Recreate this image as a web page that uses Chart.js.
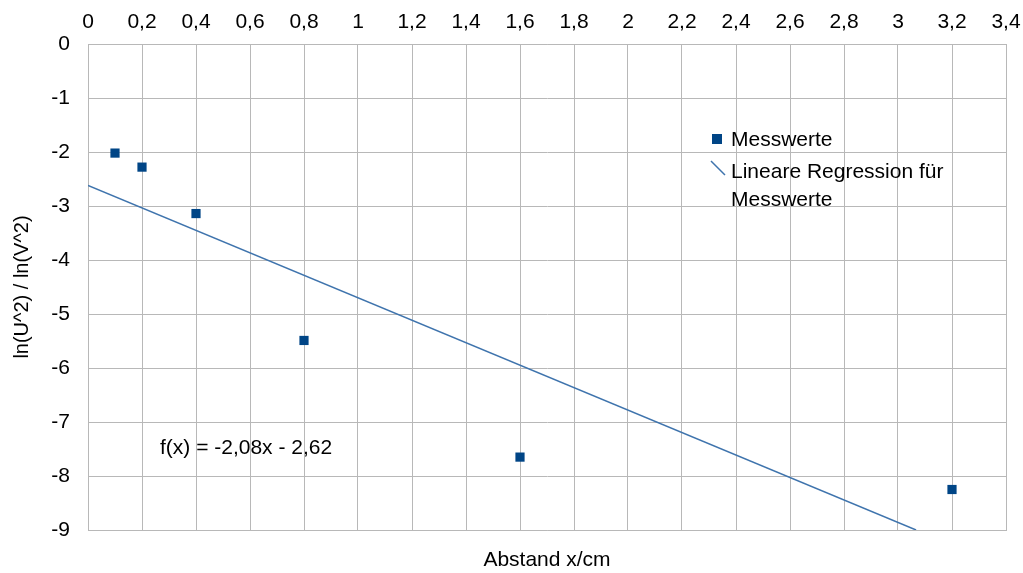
<!DOCTYPE html>
<html lang="de">
<head>
    <meta charset="UTF-8">
    <title>Messwerte</title>
    <script src="https://cdn.jsdelivr.net/npm/chart.js"></script>
    <style>
        html, body { margin: 0; padding: 0; background: #fff; }
        #wrap { width: 1023px; height: 573px; }
    </style>
</head>
<body>
    <div id="wrap"><canvas id="chart"></canvas></div>

    <script>
        // Messwerte (Abstand x in cm, ln-Verhältnis)
        const abstand = [0.1, 0.2, 0.4, 0.8, 1.6, 3.2];
        const lnWerte = [-2.02, -2.28, -3.14, -5.49, -7.65, -8.25];

        // Regressionsgerade f(x) = -2,08x - 2,62, bis zum unteren Rand gezeichnet
        const regX = [0, 3.067];
        const regY = [-2.62, -9];

        const FONT = '"Liberation Sans", Arial, sans-serif';
        const SIZE = 21;
        const GRID = '#b8b8b8';
        const DARK = '#004586';
        const LINE = '#3f74ad';

        function komma(v) {
            return (Math.round(v * 10) / 10).toString().replace('.', ',');
        }

        // Legende und Gleichung direkt in die Zeichenfläche
        const overlay = {
            id: 'overlay',
            afterDraw(chart) {
                const ctx = chart.ctx;
                ctx.save();
                ctx.font = SIZE + 'px ' + FONT;
                ctx.textBaseline = 'middle';
                ctx.textAlign = 'left';

                ctx.fillStyle = DARK;
                ctx.fillRect(712, 134, 10, 10);
                ctx.strokeStyle = LINE;
                ctx.lineWidth = 1.5;
                ctx.beginPath();
                ctx.moveTo(711, 161);
                ctx.lineTo(725, 175);
                ctx.stroke();

                ctx.fillStyle = '#000';
                ctx.fillText('Messwerte', 731, 140);
                ctx.fillText('Lineare Regression für', 731, 172);
                ctx.fillText('Messwerte', 731, 200);

                ctx.fillText('f(x) = -2,08x - 2,62', 160, 448);
                ctx.restore();
            }
        };

        new Chart(document.getElementById('chart'), {
            type: 'scatter',
            data: {
                datasets: [
                    {
                        label: 'Lineare Regression für Messwerte',
                        data: regX.map((x, i) => ({ x: x, y: regY[i] })),
                        showLine: true,
                        borderColor: LINE,
                        borderWidth: 1.5,
                        pointRadius: 0,
                        fill: false
                    },
                    {
                        label: 'Messwerte',
                        data: abstand.map((x, i) => ({ x: x, y: lnWerte[i] })),
                        pointStyle: 'rect',
                        pointRadius: 6.5,
                        backgroundColor: DARK,
                        borderColor: DARK,
                        borderWidth: 0
                    }
                ]
            },
            options: {
                responsive: true,
                maintainAspectRatio: false,
                animation: false,
                layout: { padding: 0 },
                plugins: {
                    legend: { display: false },
                    tooltip: { enabled: false }
                },
                scales: {
                    x: {
                        type: 'linear',
                        position: 'top',
                        min: 0,
                        max: 3.4,
                        afterFit(axis) {
                            axis.height = 44;
                            axis.paddingLeft = 0;
                            axis.paddingRight = 17;
                        },
                        border: { color: GRID, width: 1 },
                        grid: { color: GRID, lineWidth: 1, drawTicks: false },
                        ticks: {
                            stepSize: 0.2,
                            padding: 9,
                            color: '#000',
                            font: { family: FONT, size: SIZE },
                            maxRotation: 0,
                            autoSkip: false,
                            callback: v => komma(v)
                        }
                    },
                    x2: {
                        type: 'linear',
                        position: 'bottom',
                        min: 0,
                        max: 3.4,
                        afterFit(axis) {
                            axis.height = 43;
                            axis.paddingLeft = 0;
                            axis.paddingRight = 17;
                        },
                        border: { display: true, color: GRID },
                        grid: { display: false, drawTicks: false },
                        ticks: { display: false },
                        title: {
                            display: true,
                            text: 'Abstand x/cm',
                            color: '#000',
                            font: { family: FONT, size: SIZE },
                            padding: { top: 25, bottom: 0 }
                        }
                    },
                    y: {
                        min: -9,
                        max: 0,
                        afterFit(axis) { axis.width = 88; },
                        border: { color: GRID, width: 1 },
                        grid: { color: GRID, lineWidth: 1, drawTicks: false },
                        ticks: {
                            stepSize: 1,
                            padding: 18,
                            color: '#000',
                            font: { family: FONT, size: SIZE }
                        },
                        title: {
                            display: true,
                            text: 'ln(U^2) / ln(V^2)',
                            color: '#000',
                            font: { family: FONT, size: 20 },
                            padding: { top: 10, bottom: 0 }
                        }
                    },
                    y2: {
                        position: 'right',
                        min: -9,
                        max: 0,
                        afterFit(axis) { axis.width = 0; },
                        border: { display: true, color: GRID },
                        grid: { display: false, drawTicks: false },
                        ticks: { display: false }
                    }
                }
            },
            plugins: [overlay]
        });
    </script>
</body>
</html>
